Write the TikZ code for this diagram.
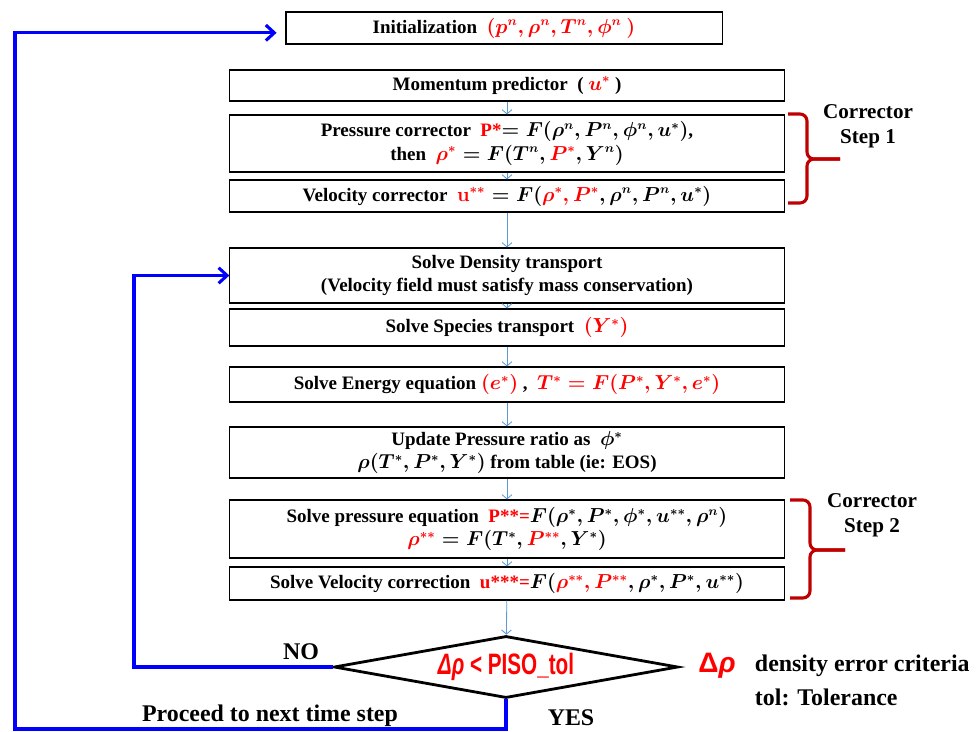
\documentclass[tikz,border=0pt]{standalone}
\usepackage{fontspec}
\setmainfont{Liberation Serif}
\newfontfamily\labelsans{Liberation Sans}
\usetikzlibrary{shapes.geometric,arrows.meta}
\definecolor{linkblue}{RGB}{91,155,213}
\definecolor{bracered}{RGB}{192,0,0}
\newcommand{\rd}[1]{\textcolor{red}{#1}}
\begin{document}
\begin{tikzpicture}[x=0.025cm, y=-0.025cm,
        stepbox/.style={draw, line width=0.8pt, minimum width=13.85cm, align=center, inner sep=1pt, font=\fontsize{13.5}{16.5}\selectfont\bfseries\boldmath},
        flow/.style={-{Straight Barb[length=3pt,width=7pt]}, linkblue, line width=0.6pt},
        backline/.style={blue, line width=2.2pt},
        bracket/.style={bracered, line width=2.2pt, rounded corners=5pt},
        lbl/.style={font=\fontsize{17}{20}\selectfont\bfseries}]
        \useasboundingbox (0,0) rectangle (979,731);
        \node[stepbox, minimum width=10.9cm, minimum height=0.8cm] (init) at (504,28) {Initialization\enspace\rd{$(p^n, \rho^n, T^n, \phi^n\ )$}};
        \node[stepbox, minimum height=0.775cm] (mom) at (507,85.5) {Momentum predictor\enspace( \rd{$u^*$} )};
        \node[stepbox, minimum height=1.425cm] (pcorr) at (507,143.5) {Pressure corrector\enspace\rd{P*}$=F(\rho^n, P^n, \phi^n, u^*)$,\\ then\enspace $\rd{\rho^*} = F(T^n, \rd{P^*}, Y^n)$};
        \node[stepbox, minimum height=0.8cm] (vcorr) at (507,196) {Velocity corrector\enspace $\rd{\mathbf{u}^{**}} = F(\rd{\rho^*, P^*}, \rho^n, P^n, u^*)$};
        \node[stepbox, minimum height=1.375cm] (dens) at (507,275.5) {Solve Density transport\\(Velocity field must satisfy mass conservation)};
        \node[stepbox, minimum height=0.925cm] (spec) at (507,327.5) {Solve Species transport\enspace\rd{$(Y^*)$}};
        \node[stepbox, minimum height=0.875cm] (energy) at (507,384.5) {Solve Energy equation \rd{$(e^*)$} ,\enspace\rd{$T^* = F(P^*, Y^*, e^*)$}};
        \node[stepbox, minimum height=1.275cm] (update) at (507,452.5) {Update Pressure ratio as\enspace$\phi^*$\\ $\rho(T^*, P^*, Y^*)$ from table (ie: EOS)};
        \node[stepbox, minimum height=1.45cm] (peq) at (507,529) {Solve pressure equation\enspace\rd{P**=}$F(\rho^*, P^*, \phi^*, u^{**}, \rho^n)$\\ $\rd{\rho^{**}} = F(T^*, \rd{P^{**}}, Y^*)$};
        \node[stepbox, minimum height=0.825cm] (vcorrection) at (507,583.5) {Solve Velocity correction\enspace\rd{u***=}$F(\rd{\rho^{**}, P^{**}}, \rho^*, P^*, u^{**})$};
        \node[draw, shape=diamond, aspect=5.5, line width=2pt, inner sep=0pt, minimum width=8.6cm, minimum height=1.55cm, font=\labelsans\fontsize{21}{24}\selectfont\bfseries, text=red] (dia) at (506,667) {\scalebox{0.7}[1]{{\itshape Δρ} < PISO\_tol}};
        \coordinate (c1) at (15,729);
        \coordinate (c2) at (134,275.5);
        \draw[flow] (mom) -- (pcorr);
        \draw[flow] (pcorr) -- (vcorr);
        \draw[flow] (vcorr) -- (dens);
        \draw[flow] (dens) -- (spec);
        \draw[flow] (spec) -- (energy);
        \draw[flow] (energy) -- (update);
        \draw[flow] (update) -- (peq);
        \draw[flow] (peq) -- (vcorrection);
        \draw[flow] (vcorrection) -- (dia);
        \draw[backline, -{Straight Barb[length=6pt,width=11pt]}] (dia.west) -| (c2) -- (dens.west);
        \draw[backline, -{Straight Barb[length=6pt,width=11pt]}, shorten >=0.22cm] (dia.south) |- (c1) |- ([yshift=-0.12cm]init.west);
        \draw[bracket] (788,114) -- (807,114) -- (807,159) -- (840,159);
        \draw[bracket] (840,159) -- (807,159) -- (807,203) -- (788,203);
        \draw[bracket] (790,500) -- (810,500) -- (810,550) -- (845,550);
        \draw[bracket] (845,550) -- (810,550) -- (810,598) -- (790,598);
        \node[align=center, font=\fontsize{15}{18}\selectfont\bfseries] (step1) at (868,126) {Corrector\\Step 1};
        \node[align=center, font=\fontsize{15}{18}\selectfont\bfseries] (step2) at (872,515) {Corrector\\Step 2};
        \node[lbl] (no) at (301,652) {NO};
        \node[lbl] (yes) at (571,718) {YES};
        \node[lbl] (proceed) at (270,716) {Proceed to next time step};
        \node[text=red, font=\labelsans\fontsize{20}{24}\selectfont\bfseries] (drho) at (717,666) {Δ\textit{ρ}};
        \node[lbl, anchor=west] (crit) at (750,666) {density error criteria};
        \node[lbl, anchor=west] (tol) at (750,697) {tol: Tolerance};
\end{tikzpicture}
\end{document}
